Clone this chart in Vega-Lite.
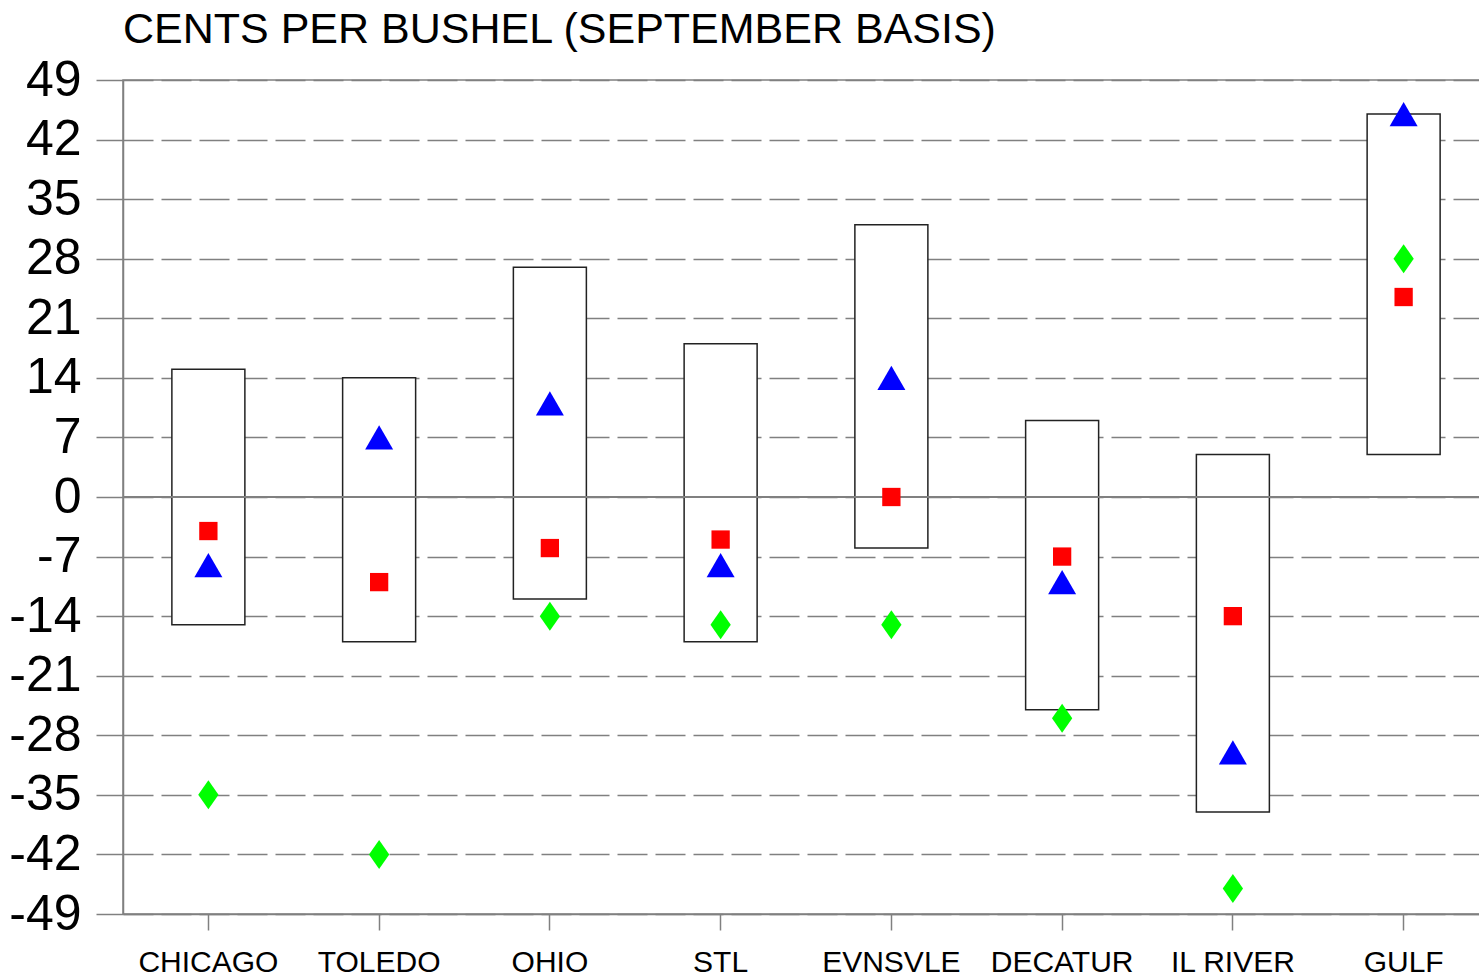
{
  "$schema": "https://vega.github.io/schema/vega-lite/v6.json",
  "autosize": {"type": "none"},
  "width": 1366,
  "height": 834,
  "padding": {"left": 123, "top": 80, "right": -10, "bottom": 65},
  "background": "white",
  "title": {
    "text": "CENTS PER BUSHEL (SEPTEMBER BASIS)",
    "anchor": "start",
    "frame": "group",
    "fontSize": 43,
    "fontWeight": "normal",
    "font": "Liberation Sans",
    "color": "black",
    "offset": 3
  },
  "config": {
    "view": {"stroke": "#808080", "strokeWidth": 1.5},
    "axis": {
      "labelFont": "Liberation Sans",
      "labelColor": "black",
      "domainColor": "#808080",
      "domainWidth": 1.5,
      "tickColor": "#808080",
      "tickWidth": 1.5,
      "title": null
    }
  },
  "data": {
    "values": [
      {"location": "CHICAGO", "low": -15, "high": 15, "sq": -4, "tri": -8, "dia": -35},
      {"location": "TOLEDO", "low": -17, "high": 14, "sq": -10, "tri": 7, "dia": -42},
      {"location": "OHIO", "low": -12, "high": 27, "sq": -6, "tri": 11, "dia": -14},
      {"location": "STL", "low": -17, "high": 18, "sq": -5, "tri": -8, "dia": -15},
      {"location": "EVNSVLE", "low": -6, "high": 32, "sq": 0, "tri": 14, "dia": -15},
      {"location": "DECATUR", "low": -25, "high": 9, "sq": -7, "tri": -10, "dia": -26},
      {"location": "IL RIVER", "low": -37, "high": 5, "sq": -14, "tri": -30, "dia": -46},
      {"location": "GULF", "low": 5, "high": 45, "sq": 23.5, "tri": 45, "dia": 28}
    ]
  },
  "encoding": {
    "x": {
      "field": "location",
      "type": "nominal",
      "sort": null,
      "scale": {"type": "band", "paddingInner": 0, "paddingOuter": 0},
      "axis": {
        "labelAngle": 0,
        "labelFontSize": 30,
        "labelPadding": 17,
        "tickSize": 16,
        "grid": false,
        "labelOverlap": false
      }
    }
  },
  "layer": [
    {
      "mark": {"type": "bar", "size": 73, "fill": "white", "stroke": "#222222", "strokeWidth": 1.5},
      "encoding": {
        "y": {
          "field": "low",
          "type": "quantitative",
          "scale": {"domain": [-49, 49], "nice": false, "zero": false},
          "axis": {
            "values": [-49, -42, -35, -28, -21, -14, -7, 0, 7, 14, 21, 28, 35, 42, 49],
            "labelFontSize": 50,
            "labelPadding": 15,
            "tickSize": 27,
            "labelExpr": "'' + datum.value",
            "grid": true,
            "gridColor": "#808080",
            "gridWidth": 1.5,
            "gridDash": [30, 8],
            "labelOverlap": false,
            "labelBound": false
          }
        },
        "y2": {"field": "high"}
      }
    },
    {
      "mark": {"type": "rule", "color": "#808080", "strokeWidth": 1.5},
      "encoding": {"y": {"datum": 0, "type": "quantitative"}, "x": {"value": 0}, "x2": {"value": 1366}}
    },
    {
      "mark": {"type": "point", "shape": "square", "filled": true, "fill": "#FF0000", "size": 335, "opacity": 1, "strokeWidth": 0},
      "encoding": {"y": {"field": "sq", "type": "quantitative"}}
    },
    {
      "mark": {"type": "point", "shape": "triangle-up", "filled": true, "fill": "#0000FF", "size": 784, "opacity": 1, "strokeWidth": 0},
      "encoding": {"y": {"field": "tri", "type": "quantitative"}}
    },
    {
      "mark": {"type": "point", "shape": "M0,-1L0.7,0L0,1L-0.7,0Z", "filled": true, "fill": "#00FF00", "size": 841, "opacity": 1, "strokeWidth": 0},
      "encoding": {"y": {"field": "dia", "type": "quantitative"}}
    }
  ]
}
